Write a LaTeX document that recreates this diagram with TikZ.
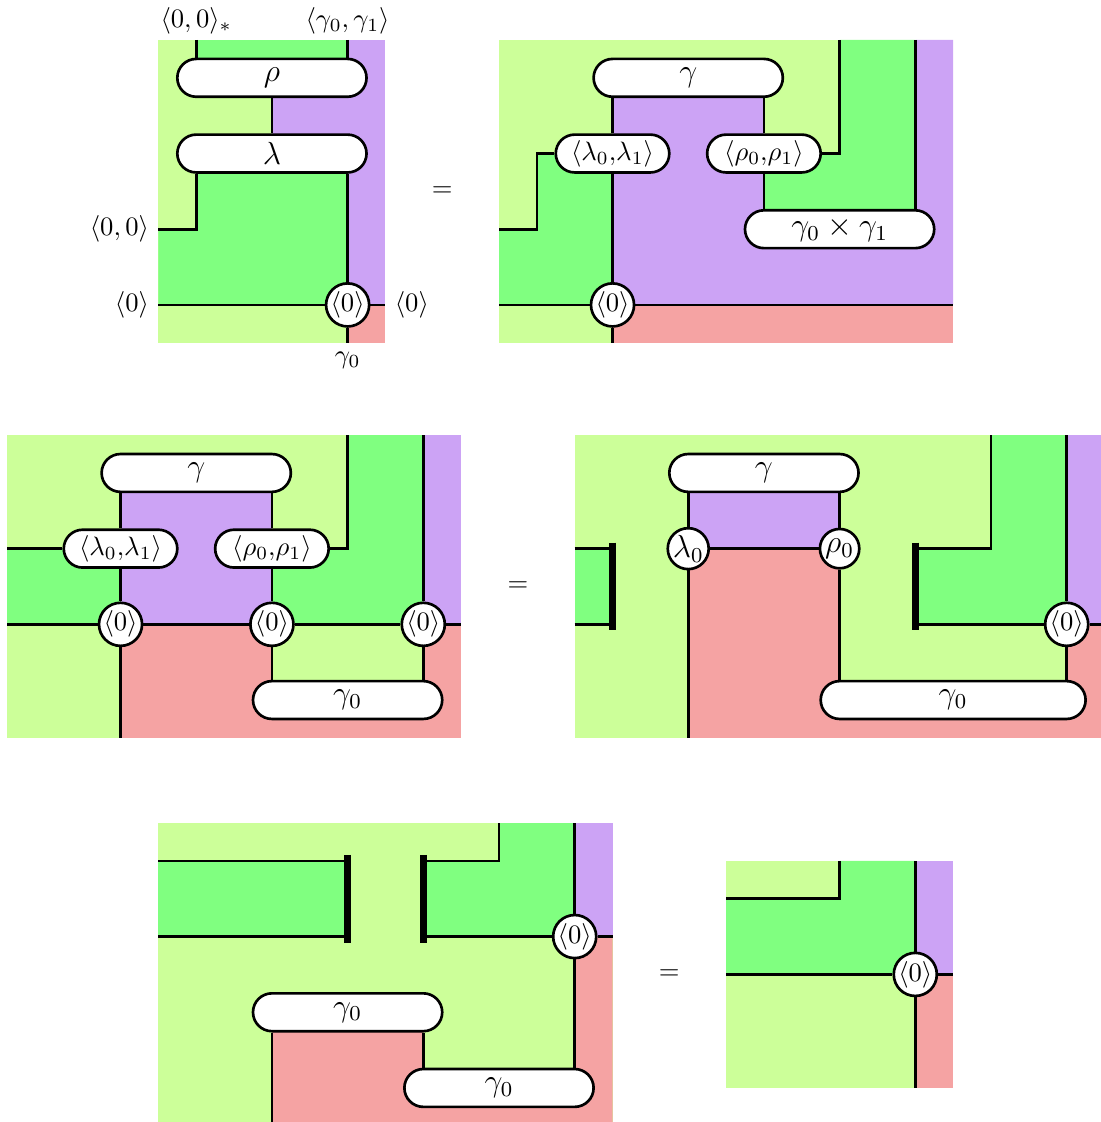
\documentclass[tikz,border=0pt]{standalone}
\usepackage{amsmath}
\usepackage{amssymb}
\definecolor{lgreen}{HTML}{CCFF99}
\definecolor{dgreen}{HTML}{80FF80}
\definecolor{lilac}{HTML}{CCA3F5}
\definecolor{salmon}{HTML}{F5A3A3}
\tikzset{
  box/.style={draw, line width=1pt, fill=white, rounded corners=0.25cm, minimum height=0.5cm, minimum width=#1, inner sep=0pt, font=\large},
  box/.default=2.5cm,
  dot/.style={draw, line width=1pt, fill=white, circle, minimum size=0.52cm, inner sep=0pt},
  wire/.style={line width=1pt},
  wall/.style={line width=2.8pt},
}

\begin{document}
\begin{tikzpicture}[x=0.5cm, y=0.5cm]
\useasboundingbox (-0.185,1.057) rectangle (28.90,-28.59);
\clip (-0.185,1.057) rectangle (28.90,-28.59);
\begin{scope}[shift={(4,0)}]
\fill[lgreen] (0,0) rectangle (6,-8);
\fill[dgreen] (1,0) rectangle (5,-1);
\fill[lilac] (5,0) rectangle (6,-7);
\fill[lilac] (3,-1) rectangle (5,-3);
\fill[dgreen] (1,-3) -- (5,-3) -- (5,-7) -- (0,-7) -- (0,-5) -- (1,-5) -- cycle;
\fill[salmon] (5,-7) rectangle (6,-8);
\node[box] (rhoA) at (3,-1) {$\rho$};
\node[box] (lamA) at (3,-3) {$\lambda$};
\node[dot] (zA) at (5,-7) {$\langle 0\rangle$};
\coordinate (tA1) at (1,0);
\coordinate (tA2) at (5,0);
\coordinate (lA1) at (0,-5);
\coordinate (lA2) at (0,-7);
\coordinate (rA2) at (6,-7);
\coordinate (bA) at (5,-8);
\draw[wire] (tA1) -- (tA1 |- rhoA.north);
\draw[wire] (tA2) -- (tA2 |- rhoA.north);
\draw[wire] (rhoA) -- (lamA);
\draw[wire] (lamA.south -| tA1) |- (lA1);
\draw[wire] (lamA.south -| tA2) -- (zA);
\draw[wire] (lA2) -- (zA) -- (rA2);
\draw[wire] (zA) -- (bA);
\node[above=-1.5pt] at (tA1) {$\langle 0,0\rangle_*$};
\node[above=-1.5pt] at (tA2) {$\langle \gamma_0,\gamma_1\rangle$};
\node[left] at (lA1) {$\langle 0,0\rangle$};
\node[left] at (lA2) {$\langle 0\rangle$};
\node[right] at (rA2) {$\langle 0\rangle$};
\node[below] at (bA) {$\gamma_0$};
\end{scope}
\node (eqA) at (11.5,-4) {$=$};
\begin{scope}[shift={(13,0)}]
\fill[lgreen] (0,0) rectangle (12,-8);
\fill[lilac] (3,-1) -- (7,-1) -- (7,-4.5) -- (11,-4.5) -- (11,0) -- (12,0) -- (12,-7) -- (3,-7) -- cycle;
\fill[dgreen] (9,0) -- (11,0) -- (11,-4.5) -- (7,-4.5) -- (7,-3) -- (9,-3) -- cycle;
\fill[dgreen] (0,-5) -- (1,-5) -- (1,-3) -- (3,-3) -- (3,-7) -- (0,-7) -- cycle;
\fill[salmon] (3,-7) rectangle (12,-8);
\node[box] (gamB) at (5,-1) {$\gamma$};
\node[box=1.5cm, font=\normalsize] (lpB) at (3,-3) {$\langle\lambda_0{,}\lambda_1\rangle$};
\node[box=1.5cm, font=\normalsize] (rpB) at (7,-3) {$\langle\rho_0{,}\rho_1\rangle$};
\node[box] (prodB) at (9,-5) {$\gamma_0\times\gamma_1$};
\node[dot] (zB) at (3,-7) {$\langle 0\rangle$};
\coordinate (kB) at (1,-5);
\coordinate (lB1) at (0,-5);
\coordinate (lB2) at (0,-7);
\coordinate (rB2) at (12,-7);
\coordinate (bB) at (3,-8);
\coordinate (tB9) at (9,0);
\coordinate (tB11) at (11,0);
\draw[wire] (lpB) -- (lpB |- gamB.south);
\draw[wire] (rpB) -- (rpB |- gamB.south);
\draw[wire] (lpB.west) -| (kB) -- (lB1);
\draw[wire] (lpB) -- (zB);
\draw[wire] (rpB.east) -| (tB9);
\draw[wire] (rpB) -- (rpB |- prodB.north);
\draw[wire] (tB11) -- (tB11 |- prodB.north);
\draw[wire] (lB2) -- (zB) -- (rB2);
\draw[wire] (zB) -- (bB);
\end{scope}
\begin{scope}[shift={(0,-10.44)}]
\fill[lgreen] (0,0) rectangle (12,-8);
\fill[dgreen] (0,-3) rectangle (3,-5);
\fill[lilac] (3,-1) rectangle (7,-5);
\fill[dgreen] (9,0) -- (11,0) -- (11,-5) -- (7,-5) -- (7,-3) -- (9,-3) -- cycle;
\fill[lilac] (11,0) rectangle (12,-5);
\fill[salmon] (3,-5) rectangle (12,-8);
\fill[lgreen] (7,-5) rectangle (11,-7);
\node[box] (gamC) at (5,-1) {$\gamma$};
\node[box=1.5cm, font=\normalsize] (lpC) at (3,-3) {$\langle\lambda_0{,}\lambda_1\rangle$};
\node[box=1.5cm, font=\normalsize] (rpC) at (7,-3) {$\langle\rho_0{,}\rho_1\rangle$};
\node[box] (gC) at (9,-7) {$\gamma_0$};
\node[dot] (zC1) at (3,-5) {$\langle 0\rangle$};
\node[dot] (zC2) at (7,-5) {$\langle 0\rangle$};
\node[dot] (zC3) at (11,-5) {$\langle 0\rangle$};
\coordinate (lC3) at (0,-3);
\coordinate (lC5) at (0,-5);
\coordinate (rC5) at (12,-5);
\coordinate (bC) at (3,-8);
\coordinate (tC9) at (9,0);
\coordinate (tC11) at (11,0);
\draw[wire] (lpC) -- (lpC |- gamC.south);
\draw[wire] (rpC) -- (rpC |- gamC.south);
\draw[wire] (lC3) -- (lpC);
\draw[wire] (rpC.east) -| (tC9);
\draw[wire] (lpC) -- (zC1);
\draw[wire] (rpC) -- (zC2);
\draw[wire] (tC11) -- (zC3);
\draw[wire] (lC5) -- (zC1) -- (zC2) -- (zC3) -- (rC5);
\draw[wire] (zC1) -- (bC);
\draw[wire] (zC2) -- (zC2 |- gC.north);
\draw[wire] (zC3) -- (zC3 |- gC.north);
\end{scope}
\node (eqB) at (13.5,-14.44) {$=$};
\begin{scope}[shift={(15,-10.44)}]
\fill[lgreen] (0,0) rectangle (14,-8);
\fill[dgreen] (0,-3) rectangle (1,-5);
\fill[lilac] (3,-1) rectangle (7,-3);
\fill[salmon] (3,-3) -- (7,-3) -- (7,-7) -- (13,-7) -- (13,-5) -- (14,-5) -- (14,-8) -- (3,-8) -- cycle;
\fill[dgreen] (9,-3) -- (11,-3) -- (11,0) -- (13,0) -- (13,-5) -- (9,-5) -- cycle;
\fill[lilac] (13,0) rectangle (14,-5);
\node[box] (gamD) at (5,-1) {$\gamma$};
\node[dot, font=\large] (laD) at (3,-3) {$\lambda_0$};
\node[dot, font=\large] (roD) at (7,-3) {$\rho_0$};
\node[dot] (zD) at (13,-5) {$\langle 0\rangle$};
\node[box=3.5cm] (gD) at (10,-7) {$\gamma_0$};
\coordinate (lD3) at (0,-3);
\coordinate (lD5) at (0,-5);
\coordinate (wD1) at (1,-3);
\coordinate (wD2) at (1,-5);
\coordinate (wD3) at (9,-3);
\coordinate (wD4) at (9,-5);
\coordinate (tD11) at (11,0);
\coordinate (tD13) at (13,0);
\coordinate (rD5) at (14,-5);
\coordinate (bD) at (3,-8);
\draw[wire] (laD) -- (laD |- gamD.south);
\draw[wire] (roD) -- (roD |- gamD.south);
\draw[wire] (laD) -- (roD);
\draw[wire] (laD) -- (bD);
\draw[wire] (roD) -- (roD |- gD.north);
\draw[wire] (zD) -- (zD |- gD.north);
\draw[wire] (tD13) -- (zD);
\draw[wire] (lD3) -- (wD1);
\draw[wire] (lD5) -- (wD2);
\draw[wire] (wD3) -| (tD11);
\draw[wire] (wD4) -- (zD) -- (rD5);
\draw[wall] ([yshift=0.08cm]wD1) -- ([yshift=-0.08cm]wD2);
\draw[wall] ([yshift=0.08cm]wD3) -- ([yshift=-0.08cm]wD4);
\end{scope}
\begin{scope}[shift={(4,-20.69)}]
\fill[lgreen] (0,0) rectangle (12,-8);
\fill[dgreen] (0,-1) rectangle (5,-3);
\fill[dgreen] (7,-1) -- (9,-1) -- (9,0) -- (11,0) -- (11,-3) -- (7,-3) -- cycle;
\fill[lilac] (11,0) rectangle (12,-3);
\fill[salmon] (3,-5) -- (7,-5) -- (7,-7) -- (11,-7) -- (11,-3) -- (12,-3) -- (12,-8) -- (3,-8) -- cycle;
\node[dot] (zE) at (11,-3) {$\langle 0\rangle$};
\node[box] (gE1) at (5,-5) {$\gamma_0$};
\node[box] (gE2) at (9,-7) {$\gamma_0$};
\coordinate (lE1) at (0,-1);
\coordinate (lE3) at (0,-3);
\coordinate (wE1) at (5,-1);
\coordinate (wE2) at (5,-3);
\coordinate (wE3) at (7,-1);
\coordinate (wE4) at (7,-3);
\coordinate (tE9) at (9,0);
\coordinate (tE11) at (11,0);
\coordinate (rE3) at (12,-3);
\coordinate (bE) at (3,-8);
\draw[wire] (lE1) -- (wE1);
\draw[wire] (lE3) -- (wE2);
\draw[wire] (wE3) -| (tE9);
\draw[wire] (wE4) -- (zE) -- (rE3);
\draw[wire] (tE11) -- (zE);
\draw[wire] (zE) -- (zE |- gE2.north);
\draw[wire] (gE1.south -| bE) -- (bE);
\draw[wire] (gE1.south -| wE4) -- (gE2.north -| wE4);
\draw[wall] ([yshift=0.08cm]wE1) -- ([yshift=-0.08cm]wE2);
\draw[wall] ([yshift=0.08cm]wE3) -- ([yshift=-0.08cm]wE4);
\end{scope}
\node (eqC) at (17.5,-24.69) {$=$};
\begin{scope}[shift={(19,-21.69)}]
\fill[lgreen] (0,0) rectangle (6,-6);
\fill[dgreen] (3,0) -- (5,0) -- (5,-3) -- (0,-3) -- (0,-1) -- (3,-1) -- cycle;
\fill[lilac] (5,0) rectangle (6,-3);
\fill[salmon] (5,-3) rectangle (6,-6);
\node[dot] (zF) at (5,-3) {$\langle 0\rangle$};
\coordinate (lF1) at (0,-1);
\coordinate (lF3) at (0,-3);
\coordinate (tF3) at (3,0);
\coordinate (tF5) at (5,0);
\coordinate (rF3) at (6,-3);
\coordinate (bF) at (5,-6);
\draw[wire] (lF1) -| (tF3);
\draw[wire] (tF5) -- (zF);
\draw[wire] (lF3) -- (zF) -- (rF3);
\draw[wire] (zF) -- (bF);
\end{scope}
\end{tikzpicture}
\end{document}
